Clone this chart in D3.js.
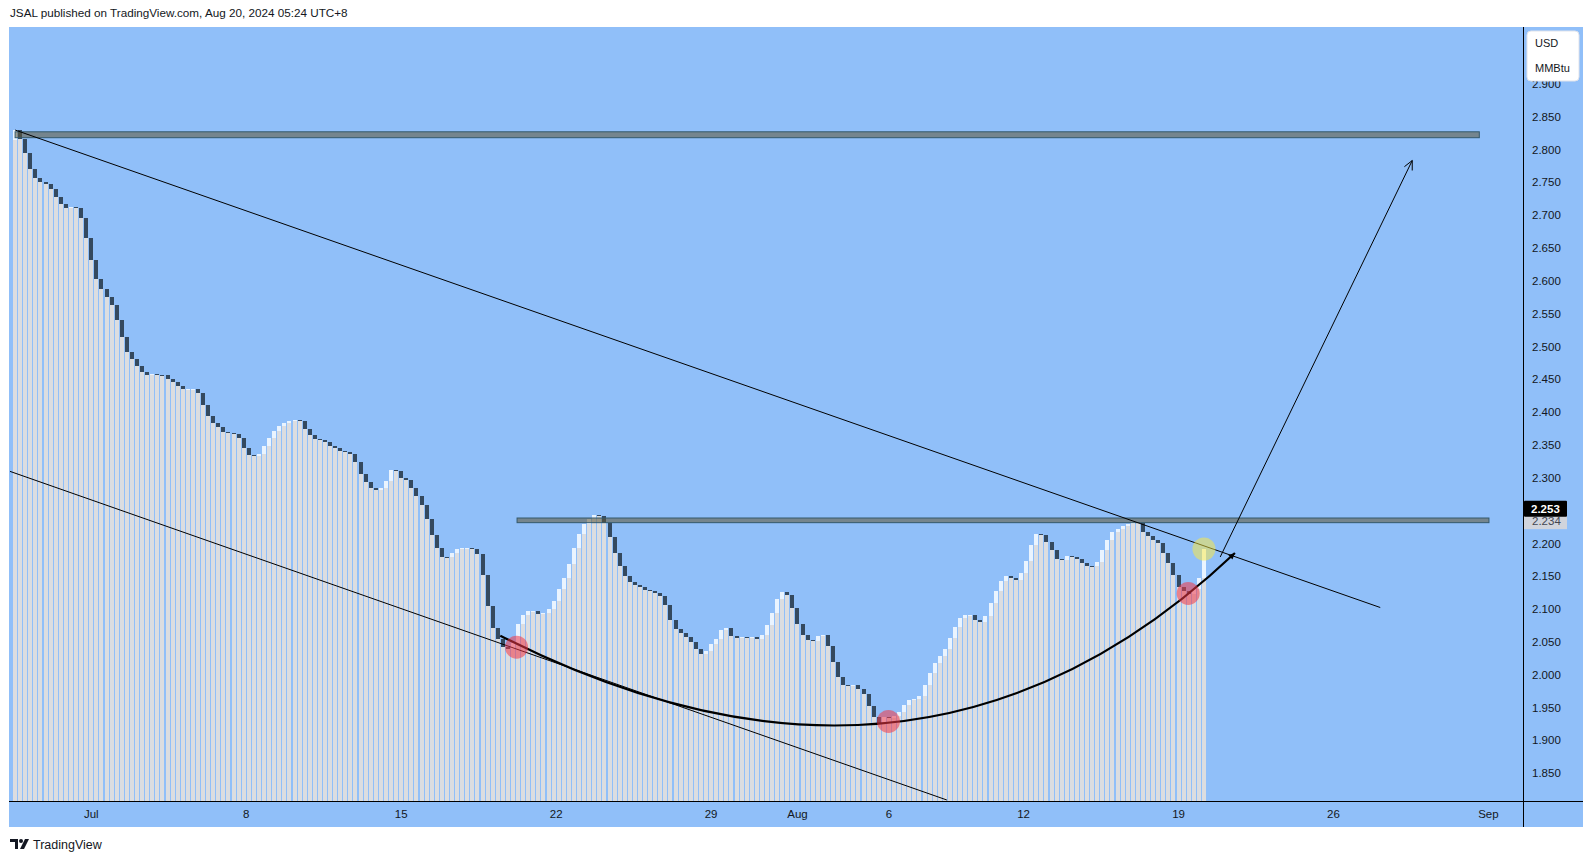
<!DOCTYPE html>
<html>
<head>
<meta charset="utf-8">
<script src="https://cdn.jsdelivr.net/npm/d3@7"></script>
<style>
  html, body { margin: 0; padding: 0; background: #ffffff; }
  svg { display: block; }
  text { font-family: "Liberation Sans", Arial, sans-serif; }
</style>
</head>
<body>
<svg id="chart" width="1593" height="863"></svg>
<script>
// ---------------- DATA ----------------
// 4-hour closing prices (USD/MMBtu), bar index 0 .. 234
const closes = [
  2.830, 2.816, 2.794, 2.770, 2.756, 2.751, 2.748, 2.740, 2.727, 2.717,
  2.711, 2.712, 2.711, 2.695, 2.665, 2.631, 2.603, 2.587, 2.576, 2.563,
  2.540, 2.515, 2.492, 2.481, 2.471, 2.461, 2.457, 2.458, 2.457, 2.456,
  2.451, 2.446, 2.440, 2.435, 2.435, 2.436, 2.429, 2.411, 2.394, 2.384,
  2.377, 2.370, 2.369, 2.367, 2.361, 2.346, 2.335, 2.333, 2.337, 2.348,
  2.360, 2.372, 2.379, 2.383, 2.386, 2.388, 2.387, 2.374, 2.365, 2.359,
  2.358, 2.354, 2.349, 2.345, 2.341, 2.339, 2.336, 2.324, 2.306, 2.293,
  2.284, 2.281, 2.284, 2.295, 2.312, 2.311, 2.299, 2.297, 2.284, 2.272,
  2.259, 2.237, 2.213, 2.193, 2.180, 2.179, 2.185, 2.191, 2.193, 2.193,
  2.192, 2.184, 2.152, 2.105, 2.071, 2.055, 2.043, 2.040, 2.048, 2.078,
  2.091, 2.097, 2.097, 2.093, 2.094, 2.100, 2.112, 2.131, 2.147, 2.169,
  2.193, 2.214, 2.230, 2.237, 2.243, 2.242, 2.231, 2.210, 2.186, 2.166,
  2.150, 2.142, 2.137, 2.133, 2.129, 2.127, 2.125, 2.120, 2.106, 2.084,
  2.069, 2.063, 2.057, 2.050, 2.040, 2.032, 2.036, 2.047, 2.055, 2.068,
  2.072, 2.059, 2.056, 2.058, 2.057, 2.058, 2.055, 2.060, 2.076, 2.094,
  2.115, 2.126, 2.121, 2.102, 2.078, 2.060, 2.053, 2.052, 2.059, 2.060,
  2.044, 2.019, 1.997, 1.984, 1.983, 1.984, 1.979, 1.970, 1.953, 1.936,
  1.926, 1.936, 1.934, 1.938, 1.944, 1.954, 1.961, 1.963, 1.968, 1.984,
  2.002, 2.018, 2.028, 2.039, 2.056, 2.073, 2.086, 2.091, 2.091, 2.083,
  2.081, 2.089, 2.109, 2.127, 2.143, 2.150, 2.148, 2.145, 2.155, 2.174,
  2.198, 2.214, 2.213, 2.203, 2.190, 2.177, 2.175, 2.181, 2.180, 2.177,
  2.171, 2.166, 2.165, 2.172, 2.190, 2.206, 2.217, 2.222, 2.226, 2.229,
  2.232, 2.231, 2.218, 2.211, 2.206, 2.200, 2.185, 2.171, 2.152, 2.134,
  2.127, 2.123, 2.130, 2.148, 2.191
];
const firstOpen = 2.815;

// price axis ticks
const priceTicks = [1.85, 1.90, 1.95, 2.00, 2.05, 2.10, 2.15, 2.20, 2.25, 2.30, 2.35,
                    2.40, 2.45, 2.50, 2.55, 2.60, 2.65, 2.70, 2.75, 2.80, 2.85, 2.90];
// time axis ticks (bar index positions) and labels
const timeTickIdx    = [15, 45.5, 76, 106.5, 137, 154, 172, 198.5, 229, 259.5, 290];
const timeTickLabels = ["Jul", "8", "15", "22", "29", "Aug", "6", "12", "19", "26", "Sep"];

// price labels on axis
const lastPrice = 2.253;
const levelPrice = 2.234;
const unitLabels = ["USD", "MMBtu"];

// drawings, in (bar index, price)
const zoneRects = [
  { i0: 0,    i1: 288.2, pTop: 2.827,  pBot: 2.818 },
  { i0: 98.8, i1: 290.1, pTop: 2.2388, pBot: 2.2317 }
];
const trendLines = [
  [[0, 2.8297], [268.7, 2.1025]],
  [[-1.0, 2.3098], [183.4, 1.8093]]
];
const curvePts = [[95.5, 2.0596], [178.3, 1.7332], [240.1, 2.1855]];
const arrowPts = [[237.2, 2.1794], [275.0, 2.7833]];
const redMarks = [[98.7, 2.042], [171.9, 1.929], [230.9, 2.124]];
const yellowMarks = [[234.0, 2.1916]];

const headerText = "JSAL published on TradingView.com, Aug 20, 2024 05:24 UTC+8";

// ---------------- LAYOUT ----------------
const frame = { left: 9, top: 27, right: 1583, bottom: 827 };
const plot  = { left: 9, top: 27, right: 1523, bottom: 801 };

const BG = "#90bff9";
const INK = "#131722";

const svg = d3.select("#chart");

const x = d3.scaleLinear().domain([-1.2, 296.8]).range([plot.left, plot.right]);
const y = d3.scaleLinear().domain([1.8078, 2.9866]).range([plot.bottom, plot.top]);

// header
svg.append("text").attr("x", 10).attr("y", 17)
  .attr("font-size", 11.7).attr("fill", INK).text(headerText);

// frame background
svg.append("rect")
  .attr("x", frame.left).attr("y", frame.top)
  .attr("width", frame.right - frame.left).attr("height", frame.bottom - frame.top)
  .attr("fill", BG);

// clip
svg.append("clipPath").attr("id", "plotClip")
  .append("rect").attr("x", plot.left).attr("y", plot.top)
  .attr("width", plot.right - plot.left).attr("height", plot.bottom - plot.top);

const g = svg.append("g").attr("clip-path", "url(#plotClip)");

// bars
const bars = closes.map((c, i) => ({ i, c, o: i === 0 ? firstOpen : closes[i - 1] }));
const BW = 4;
const bx = d => Math.round(x(d.i) - BW / 2);

g.append("g").selectAll("rect").data(bars).join("rect")
  .attr("x", bx).attr("width", BW)
  .attr("y", d => Math.round(y(Math.min(d.o, d.c))))
  .attr("height", d => plot.bottom - Math.round(y(Math.min(d.o, d.c))))
  .attr("fill", "#dcdde0");

g.append("g").selectAll("rect").data(bars).join("rect")
  .attr("x", bx).attr("width", BW)
  .attr("y", d => Math.round(y(Math.max(d.o, d.c))))
  .attr("height", d => Math.max(1, Math.round(y(Math.min(d.o, d.c))) - Math.round(y(Math.max(d.o, d.c)))))
  .attr("fill", d => d.c < d.o ? "#34495f" : "#eaf4ff");

// zones
g.append("g").selectAll("rect").data(zoneRects).join("rect")
  .attr("x", d => x(d.i0)).attr("width", d => x(d.i1) - x(d.i0))
  .attr("y", d => y(d.pTop)).attr("height", d => y(d.pBot) - y(d.pTop))
  .attr("fill", "rgba(95,85,55,0.55)")
  .attr("stroke", "#35596b").attr("stroke-width", 1);

// trend lines
g.append("g").selectAll("line").data(trendLines).join("line")
  .attr("x1", d => x(d[0][0])).attr("y1", d => y(d[0][1]))
  .attr("x2", d => x(d[1][0])).attr("y2", d => y(d[1][1]))
  .attr("stroke", "#000").attr("stroke-width", 1);

// curve
const cp = d3.path();
cp.moveTo(x(curvePts[0][0]), y(curvePts[0][1]));
cp.quadraticCurveTo(x(curvePts[1][0]), y(curvePts[1][1]), x(curvePts[2][0]), y(curvePts[2][1]));
g.append("path").attr("d", cp.toString())
  .attr("fill", "none").attr("stroke", "#000").attr("stroke-width", 2.2);

// curve end arrowhead (small)
{
  const ex = x(curvePts[2][0]), ey = y(curvePts[2][1]);
  const cx = x(curvePts[1][0]), cy = y(curvePts[1][1]);
  const a = Math.atan2(ey - cy, ex - cx);
  const L = 7, s = 0.45;
  g.append("path")
    .attr("d", `M${ex},${ey} L${ex - L * Math.cos(a - s)},${ey - L * Math.sin(a - s)} L${ex - L * Math.cos(a + s)},${ey - L * Math.sin(a + s)} Z`)
    .attr("fill", "#000");
}

// arrow line
{
  const x1 = x(arrowPts[0][0]), y1 = y(arrowPts[0][1]);
  const x2 = x(arrowPts[1][0]), y2 = y(arrowPts[1][1]);
  g.append("line").attr("x1", x1).attr("y1", y1).attr("x2", x2).attr("y2", y2)
    .attr("stroke", "#000").attr("stroke-width", 1);
  const a = Math.atan2(y2 - y1, x2 - x1);
  const L = 10, s = 0.45;
  g.append("path")
    .attr("d", `M${x2 - L * Math.cos(a - s)},${y2 - L * Math.sin(a - s)} L${x2},${y2} L${x2 - L * Math.cos(a + s)},${y2 - L * Math.sin(a + s)}`)
    .attr("fill", "none").attr("stroke", "#000").attr("stroke-width", 1);
}

// markers
g.append("g").selectAll("circle").data(redMarks).join("circle")
  .attr("cx", d => x(d[0])).attr("cy", d => y(d[1])).attr("r", 11.5)
  .attr("fill", "rgba(242,54,69,0.55)");
g.append("g").selectAll("circle").data(yellowMarks).join("circle")
  .attr("cx", d => x(d[0])).attr("cy", d => y(d[1])).attr("r", 11.5)
  .attr("fill", "rgba(255,235,59,0.5)");

// axes lines
svg.append("line").attr("x1", frame.left).attr("x2", frame.right)
  .attr("y1", plot.bottom + 0.5).attr("y2", plot.bottom + 0.5)
  .attr("stroke", "#000").attr("stroke-width", 1);
svg.append("line").attr("x1", plot.right + 0.5).attr("x2", plot.right + 0.5)
  .attr("y1", frame.top).attr("y2", frame.bottom)
  .attr("stroke", "#000").attr("stroke-width", 1);

// price axis labels
const yAxisG = svg.append("g");
yAxisG.selectAll("text").data(priceTicks).join("text")
  .attr("x", plot.right + 9).attr("y", d => y(d)).attr("dy", "0.35em")
  .attr("font-size", 11.5).attr("fill", INK)
  .text(d => d3.format(".3f")(d));

// level label (grey)
svg.append("rect").attr("x", plot.right + 1).attr("y", y(levelPrice) - 8)
  .attr("width", 43).attr("height", 16).attr("fill", "#d1d4dc");
svg.append("text").attr("x", plot.right + 9).attr("y", y(levelPrice)).attr("dy", "0.35em")
  .attr("font-size", 11.5).attr("fill", "#434651").text(d3.format(".3f")(levelPrice));
// last price label (black)
svg.append("rect").attr("x", plot.right + 1).attr("y", y(lastPrice) - 8)
  .attr("width", 43).attr("height", 16).attr("rx", 1).attr("fill", "#000");
svg.append("text").attr("x", plot.right + 8).attr("y", y(lastPrice)).attr("dy", "0.35em")
  .attr("font-size", 11.5).attr("font-weight", "bold").attr("fill", "#fff").text(d3.format(".3f")(lastPrice));

// unit box
svg.append("rect").attr("x", 1527).attr("y", 31).attr("width", 52).attr("height", 50)
  .attr("rx", 4).attr("fill", "#fff").attr("stroke", "#e0e3eb");
svg.append("g").selectAll("text").data(unitLabels).join("text")
  .attr("x", 1535).attr("y", (d, k) => 47 + k * 25)
  .attr("font-size", 11).attr("fill", INK).text(d => d);

// time axis labels
svg.append("g").selectAll("text").data(timeTickIdx).join("text")
  .attr("x", d => x(d)).attr("y", 814).attr("dy", "0.35em")
  .attr("text-anchor", "middle").attr("font-size", 11.5).attr("fill", INK)
  .text((d, k) => timeTickLabels[k]);

// footer logo
const logo = svg.append("g").attr("transform", "translate(10,839)");
logo.append("path").attr("d", "M0,0 H8 V10 H5 V3 H0 Z").attr("fill", INK);
logo.append("circle").attr("cx", 11).attr("cy", 2).attr("r", 2).attr("fill", INK);
logo.append("path").attr("d", "M15,0 H19 L14,10 H10 Z").attr("fill", INK);
svg.append("text").attr("x", 33).attr("y", 849).attr("font-size", 12.5).attr("fill", INK).text("TradingView");
</script>
</body>
</html>
